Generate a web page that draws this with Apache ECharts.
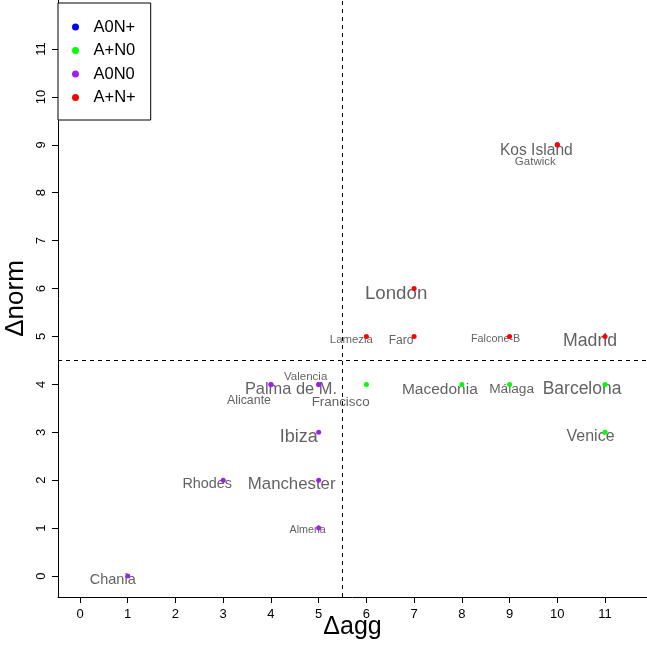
<!DOCTYPE html>
<html>
<head>
<meta charset="utf-8">
<script src="https://cdn.jsdelivr.net/npm/echarts@6/dist/echarts.min.js"></script>
<style>
html,body{margin:0;padding:0;background:#fff;}
#chart{width:647px;height:646px;}
</style>
</head>
<body>
<div id="chart"></div>
<script>
// ---- data ----
const groupNames = ['A0N+', 'A+N0', 'A0N0', 'A+N+'];
const cities = ['Chania', 'Rhodes', 'Manchester', 'Almeria', 'Ibiza', 'Palma de M.', 'Alicante', 'Valencia', 'Francisco',
                '', 'Macedonia', 'Málaga', 'Barcelona', 'Venice',
                'Lamezia', 'Faro', 'Falcone-B', 'Madrid', 'London', 'Kos Island', 'Gatwick'];
const deltaAgg  = [1, 3, 5, 5, 5, 4, 4, 5, 5,   6, 8, 9, 11, 11,   6, 7, 9, 11, 7, 10, 10];
const deltaNorm = [0, 2, 2, 1, 3, 4, 4, 4, 4,   4, 4, 4, 4, 3,     5, 5, 5, 5, 6, 9, 9];
const cityGroup = ['A0N0', 'A0N0', 'A0N0', 'A0N0', 'A0N0', 'A0N0', 'A0N0', 'A0N0', 'A0N0',
                   'A+N0', 'A+N0', 'A+N0', 'A+N0', 'A+N0',
                   'A+N+', 'A+N+', 'A+N+', 'A+N+', 'A+N+', 'A+N+', 'A+N+'];
const xTicks = [0, 1, 2, 3, 4, 5, 6, 7, 8, 9, 10, 11];
const yTicks = [0, 1, 2, 3, 4, 5, 6, 7, 8, 9, 10, 11];
const aggCut = 5.5;
const normCut = 4.5;

// ---- styles (not data) ----
const groupColors = { 'A0N+': '#0000FF', 'A+N0': '#00FF00', 'A0N0': '#A020F0', 'A+N+': '#FF0000' };
// label placement: [dx, dy, fontSize] relative to the point
const labelStyle = {
  'Chania': [-15, 4, 14.5], 'Rhodes': [-16, 4, 14.4], 'Manchester': [-27, 4, 16.8], 'Almeria': [-11, 2, 10.7],
  'Ibiza': [-20, 5, 18], 'Palma de M.': [20, 5, 16.4], 'Alicante': [-22, 16, 12.4], 'Valencia': [-13, -8, 11.5],
  'Francisco': [22, 18, 13.4], 'Macedonia': [-22, 5, 15.5], 'Málaga': [2, 5, 13.7], 'Barcelona': [-23, 5, 17.5],
  'Venice': [-14.5, 4, 16], 'Lamezia': [-15, 3.5, 11.4], 'Faro': [-13, 4, 12], 'Falcone-B': [-14, 3, 10.8],
  'Madrid': [-15, 5, 17.7], 'London': [-18, 5.5, 18.7], 'Kos Island': [-21, 6, 15.6], 'Gatwick': [-22, 17, 11.5]
};
const FONT = 'Liberation Sans, Arial, Helvetica, sans-serif';
const LABEL_SYMBOL = 2;

const chart = echarts.init(document.getElementById('chart'), null, { renderer: 'canvas' });

const labelData = [];
cities.forEach((c, i) => {
  if (!c) return;
  const s = labelStyle[c];
  labelData.push({
    name: c,
    value: [deltaAgg[i], deltaNorm[i]],
    label: {
      show: true,
      position: [LABEL_SYMBOL / 2 + s[0], LABEL_SYMBOL / 2 + s[1]],
      align: 'center',
      verticalAlign: 'middle',
      formatter: c,
      fontSize: s[2]
    }
  });
});

const series = [{
  name: 'labels',
  type: 'scatter',
  z: 2,
  silent: true,
  symbolSize: LABEL_SYMBOL,
  itemStyle: { color: 'rgba(0,0,0,0)' },
  label: { color: '#3a3a3a', fontFamily: FONT },
  data: labelData,
  markLine: {
    silent: true,
    symbol: 'none',
    label: { show: false },
    lineStyle: { color: '#000', width: 1, type: [4, 4] },
    emphasis: { disabled: true },
    data: [{ xAxis: aggCut }, { yAxis: normCut }]
  }
}];

groupNames.forEach(g => {
  const pts = [];
  cities.forEach((c, i) => { if (cityGroup[i] === g) pts.push([deltaAgg[i], deltaNorm[i]]); });
  series.push({
    name: g,
    type: 'scatter',
    z: 3,
    symbol: 'circle',
    symbolSize: 5,
    itemStyle: { color: groupColors[g], opacity: 1 },
    emphasis: { disabled: true },
    data: pts
  });
});

chart.setOption({
  animation: false,
  backgroundColor: '#fff',
  grid: { left: 58, right: 0, top: 0, bottom: 49, containLabel: false, outerBoundsMode: 'none' },
  legend: {
    data: groupNames,
    orient: 'vertical',
    left: 58,
    top: 3,
    padding: [15.5, 15, 14, 14],
    itemGap: 6.5,
    itemWidth: 26,
    itemHeight: 7,
    icon: 'circle',
    selectedMode: false,
    borderColor: '#000',
    borderWidth: 1,
    backgroundColor: '#fff',
    textStyle: { color: '#000', fontSize: 16.5, fontFamily: FONT }
  },
  xAxis: {
    type: 'value',
    min: -0.461,
    max: 11.879,
    name: 'Δagg',
    nameLocation: 'middle',
    nameGap: 18,
    nameMoveOverlap: false,
    nameTextStyle: { color: '#000', fontSize: 25, fontFamily: FONT },
    axisLine: { show: true, onZero: false, lineStyle: { color: '#000', width: 1 } },
    axisTick: { show: true, length: 6, customValues: xTicks, lineStyle: { color: '#000' } },
    axisLabel: { show: true, customValues: xTicks, margin: 11, fontSize: 13, color: '#000', fontFamily: FONT },
    splitLine: { show: false }
  },
  yAxis: {
    type: 'value',
    min: -0.438,
    max: 12.023,
    name: 'Δnorm',
    nameLocation: 'middle',
    nameRotate: 90,
    nameGap: 29,
    nameMoveOverlap: false,
    nameTextStyle: { color: '#000', fontSize: 26, fontFamily: FONT },
    axisLine: { show: true, onZero: false, lineStyle: { color: '#000', width: 1 } },
    axisTick: { show: true, length: 6, customValues: yTicks, lineStyle: { color: '#000' } },
    axisLabel: { show: true, customValues: yTicks, rotate: 90, margin: 10.5, fontSize: 13, color: '#000', fontFamily: FONT },
    splitLine: { show: false }
  },
  series: series
});
</script>
</body>
</html>
